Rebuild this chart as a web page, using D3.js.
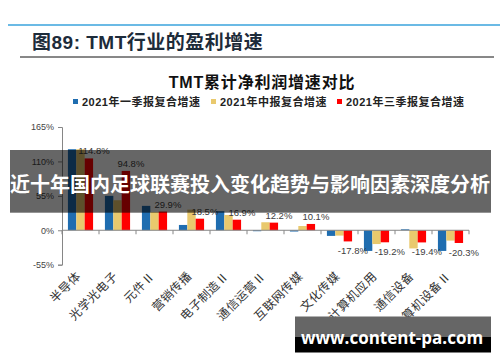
<!DOCTYPE html>
<html><head><meta charset="utf-8">
<script src="https://cdn.jsdelivr.net/npm/d3@7"></script>
<style>body{margin:0;background:#fff;}svg{display:block;}</style>
</head><body>
<svg id="c" width="500" height="362"></svg>
<script>
const categories = ["半导体","光学光电子","元件Ⅱ","营销传播","电子制造Ⅱ","通信运营Ⅱ","互联网传媒","文化传媒","计算机应用","通信设备","计算机设备Ⅱ"];
const seriesNames = ["2021年一季报复合增速","2021年中报复合增速","2021年三季报复合增速"];
const q1Values = [129.5, 55, 39, 8.5, 30.5, -1.5, -2, -9, -33, 1.5, -33];
const h1Values = [129.5, 48, 29, 33, 24.5, 12.8, 6.8, -8.5, -22, -29, -16.5];
const q3Values = [114.8, 94.8, 29.9, 18.5, 16.9, 12.2, 10.1, -17.8, -19.2, -19.4, -20.3];
const yTicks = [-55, 0, 55, 110, 165];
const colors = ["#1f6db0", "#e9c96d", "#ff0000"];

const svg = d3.select("#c");
const series = [q1Values, h1Values, q3Values];

// header
svg.append("line").attr("x1", 8).attr("x2", 500).attr("y1", 25).attr("y2", 25).attr("stroke", "#3aa3dc").attr("stroke-width", 1.6);
svg.append("text").attr("x", 32).attr("y", 49).attr("font-family", "Arial, 'Noto Sans CJK SC'").attr("font-weight", "bold").attr("font-size", 19).attr("letter-spacing", 0.5).attr("fill", "#1d2b3a").text("图89:  TMT行业的盈利增速");
svg.append("line").attr("x1", 20).attr("x2", 494).attr("y1", 57).attr("y2", 57).attr("stroke", "#111").attr("stroke-width", 1);

svg.append("text").attr("x", 262).attr("y", 88).attr("text-anchor", "middle").attr("font-family", "Arial, 'Noto Sans CJK SC'").attr("font-weight", "bold").attr("font-size", 16).attr("letter-spacing", 0.8).attr("fill", "#111").text("TMT累计净利润增速对比");

// legend
const legX = [73, 211, 337];
seriesNames.forEach((n, i) => {
  svg.append("rect").attr("x", legX[i]).attr("y", 99).attr("width", 5).attr("height", 5).attr("fill", colors[i]);
  svg.append("text").attr("x", legX[i] + 9).attr("y", 106).attr("font-family", "Arial, 'Noto Sans CJK SC'").attr("font-weight", "bold").attr("font-size", 11).attr("letter-spacing", 0.5).attr("fill", "#222").text(n);
});

// scales
const y = d3.scaleLinear().domain([-55, 165]).range([264.7, 127]);
const x = d3.scaleBand().domain(categories).range([62, 469]).paddingInner(0.32).paddingOuter(0.16);
const xs = d3.scaleBand().domain([0, 1, 2]).range([0, x.bandwidth()]);

// axes
const yAxis = d3.axisLeft(y).tickValues(yTicks).tickFormat(d => d + "%").tickSize(4).tickPadding(4);
const gy = svg.append("g").attr("transform", "translate(62,0)").call(yAxis);
gy.select(".domain").attr("stroke", "#868686");
gy.selectAll(".tick line").attr("stroke", "#868686");
gy.selectAll(".tick text").attr("font-family", "Arial, 'Liberation Sans'").attr("font-size", 9).attr("fill", "#444");

// bars
categories.forEach((c, ci) => {
  series.forEach((s, si) => {
    const v = s[ci];
    svg.append("rect")
      .attr("x", x(c) + xs(si))
      .attr("width", xs.bandwidth())
      .attr("y", y(Math.max(0, v)))
      .attr("height", Math.abs(y(v) - y(0)))
      .attr("fill", colors[si]);
  });
});

// x axis at zero
const xBound = d3.scaleLinear().domain([0, categories.length]).range([62, 469]);
svg.append("line").attr("x1", 62).attr("x2", 469).attr("y1", y(0)).attr("y2", y(0)).attr("stroke", "#868686");
d3.range(categories.length + 1).forEach(k => {
  svg.append("line").attr("x1", xBound(k)).attr("x2", xBound(k)).attr("y1", y(0)).attr("y2", y(0) + 4).attr("stroke", "#868686");
});

// value labels on red series
categories.forEach((c, ci) => {
  const v = q3Values[ci];
  const cx = x(c) + xs(2) + xs.bandwidth() / 2 + 5;
  svg.append("text").attr("x", cx).attr("y", v >= 0 ? y(v) - 4 : y(v) + 13)
    .attr("text-anchor", "middle").attr("font-family", "Arial, 'Liberation Sans'").attr("font-size", 9.5).attr("fill", "#404040")
    .text(v.toFixed(1) + "%");
});

// category labels
categories.forEach(c => {
  const cx = xBound(categories.indexOf(c) + 0.5) + 1;
  svg.append("text").attr("transform", `translate(${cx},${277}) rotate(-45)`)
    .attr("text-anchor", "end").attr("font-family", "'Noto Sans CJK SC'").attr("font-size", 12).attr("letter-spacing", 0.5).attr("fill", "#333").text(c);
});

// overlay band
svg.append("rect").attr("x", 10).attr("y", 150).attr("width", 481).attr("height", 62.7).attr("fill", "rgba(0,0,0,0.6)");
svg.append("text").attr("x", 250).attr("y", 192).attr("text-anchor", "middle").attr("font-family", "'Noto Sans CJK SC'").attr("font-weight", "bold").attr("font-size", 20).attr("fill", "#fff").text("近十年国内足球联赛投入变化趋势与影响因素深度分析");

// watermark
svg.append("rect").attr("x", 295).attr("y", 316.5).attr("width", 196).attr("height", 20.5).attr("fill", "#666");
svg.append("rect").attr("x", 295).attr("y", 337).attr("width", 196).attr("height", 15.5).attr("fill", "#000");
svg.append("text").attr("x", 392).attr("y", 343.5).attr("text-anchor", "middle").attr("font-family", "'Open Sans', 'DejaVu Sans'").attr("font-weight", "bold").attr("font-size", 17).attr("fill", "#fff").text("www.content-pa.com");
</script>
</body></html>
